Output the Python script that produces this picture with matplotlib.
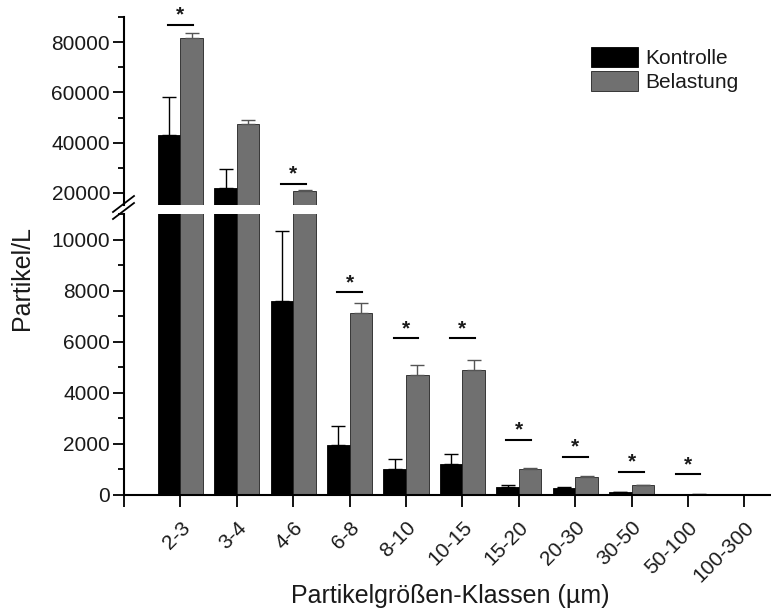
import matplotlib
matplotlib.use("Agg")
import matplotlib.pyplot as plt
from matplotlib.ticker import MultipleLocator
from matplotlib.lines import Line2D
import numpy as np

plt.rcParams['font.family'] = ['Liberation Sans', 'DejaVu Sans']

# data
klassen = ['2-3', '3-4', '4-6', '6-8', '8-10', '10-15', '15-20', '20-30', '30-50', '50-100', '100-300']
kontrolle = [43000, 22000, 7600, 1960, 1030, 1200, 300, 270, 100, 10, 0]
kontrolle_err = [15000, 7600, 2730, 740, 370, 400, 90, 60, 30, 0, 0]
belastung = [81700, 47600, 20600, 7120, 4700, 4900, 1000, 720, 380, 40, 5]
belastung_err = [1800, 1300, 400, 400, 400, 400, 60, 20, 20, 0, 0]
sig_y = [87000, None, 23700, 7930, 6140, 6140, 2160, 1500, 910, 810, None]

BLACK = '#000000'
GRAY = '#707070'
TXT = '#1a1a1a'

W, H = 771, 612
fig = plt.figure(figsize=(W / 100, H / 100), dpi=100)

left = 124 / W
lo_bottom, lo_top = 1 - 495 / H, 1 - 214 / H
up_bottom, up_top = 1 - 205 / H, 1 - 17 / H
ax_lo = fig.add_axes([left, lo_bottom, 1 - left, lo_top - lo_bottom])
ax_up = fig.add_axes([left, up_bottom, 1 - left, up_top - up_bottom])

x = np.arange(1, len(klassen) + 1)
bw = 0.4

for ax in (ax_lo, ax_up):
    ax.bar(x - bw / 2, kontrolle, bw, color=BLACK, edgecolor=BLACK, linewidth=0.6, label='Kontrolle')
    ax.bar(x + bw / 2, belastung, bw, color=GRAY, edgecolor='#222222', linewidth=0.6, label='Belastung')
    ax.errorbar(x - bw / 2, kontrolle, yerr=[np.zeros(len(x)), kontrolle_err], fmt='none',
                ecolor=BLACK, elinewidth=1, capsize=5, capthick=1)
    ax.errorbar(x + bw / 2, belastung, yerr=[np.zeros(len(x)), belastung_err], fmt='none',
                ecolor='#555555', elinewidth=1, capsize=5, capthick=1)
    ax.set_xlim(0, 11.47)
    for s in ('top', 'right'):
        ax.spines[s].set_visible(False)
    ax.spines['left'].set_linewidth(1.5)
    ax.spines['bottom'].set_linewidth(1.5)
    ax.tick_params(axis='y', which='major', length=8, width=1.3, labelsize=15, labelcolor=TXT, pad=2)
    ax.tick_params(axis='y', which='minor', length=4.5, width=1.3)
    ax.patch.set_alpha(0)

ax_lo.set_ylim(0, 11000)
ax_lo.yaxis.set_major_locator(MultipleLocator(2000))
ax_lo.yaxis.set_minor_locator(MultipleLocator(1000))
ax_lo.set_xticks(np.arange(0, 12))
ax_lo.set_xticklabels([''] + klassen, rotation=45, ha='right', rotation_mode='anchor',
                      fontsize=15, color=TXT)
ax_lo.tick_params(axis='x', length=8.5, width=1.3, pad=8)

ax_up.set_ylim(15200, 90000)
ax_up.yaxis.set_major_locator(MultipleLocator(20000))
ax_up.yaxis.set_minor_locator(MultipleLocator(10000))
ax_up.spines['bottom'].set_visible(False)
ax_up.set_xticks([])

# significance markers
for xi, yi in zip(x, sig_y):
    if yi is None:
        continue
    ax = ax_up if yi > 11000 else ax_lo
    ax.plot([xi - 0.22, xi + 0.22], [yi, yi], color=BLACK, lw=1.5, clip_on=False)
    ax.annotate('*', (xi, yi), xytext=(0, 0), textcoords='offset points',
                ha='center', va='bottom', fontsize=15, fontweight='bold', color=TXT,
                annotation_clip=False)

# axis break marks
for dy in (0, 7):
    y0 = 1 - (219 - dy) / H
    y1 = 1 - (203 - dy) / H
    fig.add_artist(Line2D([113 / W, 134 / W], [y0, y1], transform=fig.transFigure,
                          color=BLACK, lw=1.3))

leg = ax_up.legend(loc='upper left', bbox_to_anchor=(591 / W, 1 - 47 / H), bbox_transform=fig.transFigure,
                   frameon=False, fontsize=15, handlelength=2.26, handleheight=1.1,
                   labelspacing=0.15, handletextpad=0.35, borderpad=0, borderaxespad=0)
for t in leg.get_texts():
    t.set_color(TXT)

fig.text(22 / W, 1 - 278 / H, 'Partikel/L', rotation=90, ha='center', va='center', fontsize=18, color=TXT)
fig.text(450 / W, 1 - 596 / H, 'Partikelgrößen-Klassen (µm)', ha='center', va='center', fontsize=18, color=TXT)

fig.savefig('out.png', dpi=100)
